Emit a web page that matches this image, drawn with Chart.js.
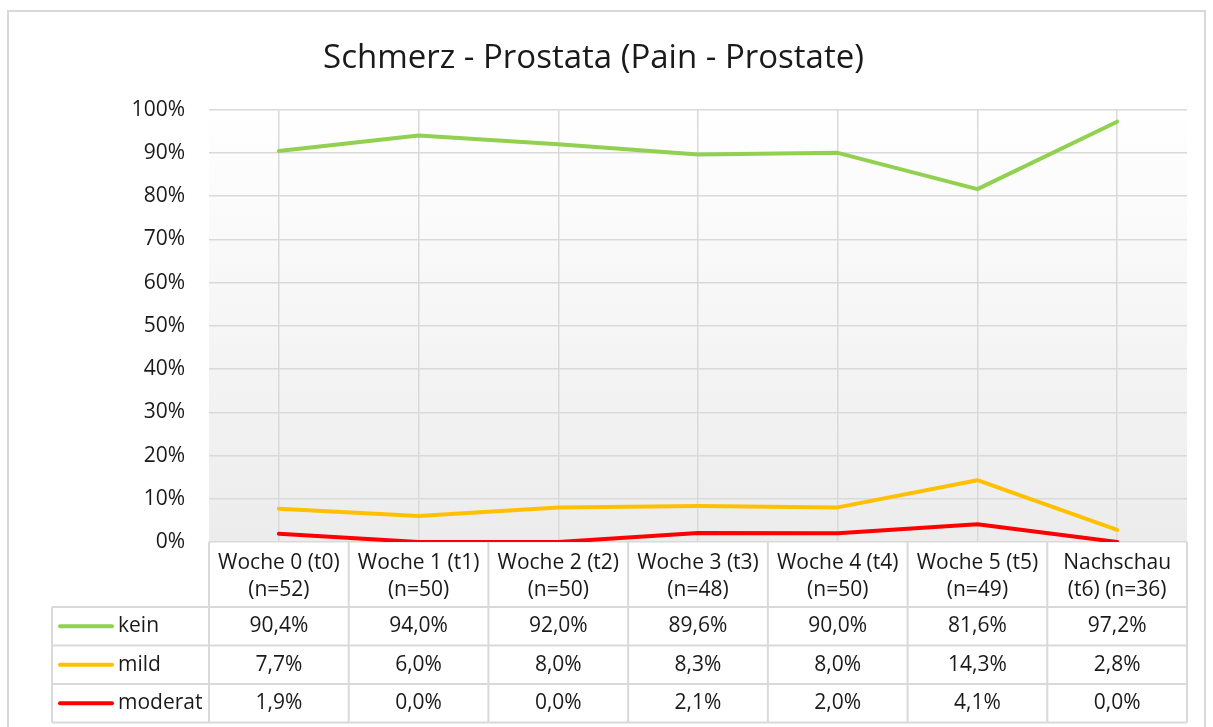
<!DOCTYPE html>
<html>
<head>
<meta charset="utf-8">
<script src="https://cdn.jsdelivr.net/npm/chart.js@4.4.1/dist/chart.umd.min.js"></script>
<style>
  body { margin: 0; background: #fff; }
  #wrap { width: 1213px; height: 727px; }
</style>
</head>
<body>
<div id="wrap"><canvas id="chart" width="1213" height="727"></canvas></div>
<script>
// data
const categories = [
    ['Woche 0 (t0)', '(n=52)'],
    ['Woche 1 (t1)', '(n=50)'],
    ['Woche 2 (t2)', '(n=50)'],
    ['Woche 3 (t3)', '(n=48)'],
    ['Woche 4 (t4)', '(n=50)'],
    ['Woche 5 (t5)', '(n=49)'],
    ['Nachschau', '(t6) (n=36)']
];
const seriesNames = ['kein', 'mild', 'moderat'];
const kein = [90.4, 94.0, 92.0, 89.6, 90.0, 81.6, 97.2];
const mild = [7.7, 6.0, 8.0, 8.3, 8.0, 14.3, 2.8];
const moderat = [1.9, 0.0, 0.0, 2.1, 2.0, 4.1, 0.0];
const colors = ['#92d050', '#ffc000', '#ff0000'];

const FONT = "'Open Sans', 'DejaVu Sans', sans-serif";
const TXT = 21;
const fmt = v => v.toFixed(1).replace('.', ',') + '%';

// table under the plot + gradient + outer frame
const tablePlugin = {
    id: 'dataTable',
    beforeDraw(chart) {
        const {ctx, chartArea: a} = chart;
        ctx.save();
        ctx.strokeStyle = '#d9d9d9';
        ctx.lineWidth = 2;
        ctx.strokeRect(8, 11, 1197, 800);
        const g = ctx.createLinearGradient(0, a.top, 0, a.bottom);
        g.addColorStop(0, '#ffffff');
        g.addColorStop(1, '#ececec');
        ctx.fillStyle = g;
        ctx.fillRect(a.left, a.top, a.right - a.left, a.bottom - a.top);
        ctx.restore();
    },
    afterDraw(chart) {
        const {ctx, chartArea: a} = chart;
        const x = chart.scales.x;
        const n = categories.length;
        const colW = (x.right - x.left) / n;
        const headBottom = 607;
        const rowH = 38.5;
        const rows = [kein, mild, moderat];
        const tableBottom = headBottom + rowH * rows.length;
        const legLeft = 52;

        ctx.save();
        ctx.strokeStyle = '#d9d9d9';
        ctx.lineWidth = 2;
        ctx.beginPath();
        for (let i = 0; i <= n; i++) {
            const xx = x.left + i * colW;
            ctx.moveTo(xx, a.bottom);
            ctx.lineTo(xx, tableBottom);
        }
        ctx.moveTo(legLeft, headBottom);
        ctx.lineTo(legLeft, tableBottom);
        for (let r = 0; r <= rows.length; r++) {
            const yy = headBottom + r * rowH;
            ctx.moveTo(legLeft, yy);
            ctx.lineTo(x.right, yy);
        }
        ctx.stroke();

        ctx.font = TXT + 'px ' + FONT;
        ctx.fillStyle = '#1a1a1a';
        ctx.textBaseline = 'middle';
        rows.forEach((vals, r) => {
            const cy = headBottom + r * rowH + rowH / 2;
            // legend key
            ctx.strokeStyle = colors[r];
            ctx.lineWidth = 4;
            ctx.lineCap = 'round';
            ctx.beginPath();
            ctx.moveTo(60, cy);
            ctx.lineTo(112, cy);
            ctx.stroke();
            ctx.textAlign = 'left';
            ctx.fillText(seriesNames[r], 118, cy);
            ctx.textAlign = 'center';
            vals.forEach((v, i) => {
                ctx.fillText(fmt(v), x.getPixelForValue(i), cy);
            });
        });
        ctx.restore();
    }
};

const ctx = document.getElementById('chart').getContext('2d');
const lineChart = new Chart(ctx, {
    type: 'line',
    data: {
        labels: categories,
        datasets: [kein, mild, moderat].map((d, i) => ({
            label: seriesNames[i],
            data: d,
            borderColor: colors[i],
            backgroundColor: colors[i],
            borderWidth: 4,
            pointRadius: 0,
            tension: 0,
            borderCapStyle: 'round',
            borderJoinStyle: 'round'
        }))
    },
    options: {
        responsive: false,
        animation: false,
        layout: {padding: {left: 0, right: 26, top: 0, bottom: 0}},
        plugins: {
            legend: {display: false},
            tooltip: {enabled: false},
            title: {
                display: true,
                text: 'Schmerz - Prostata (Pain - Prostate)',
                color: '#1a1a1a',
                font: {family: FONT, size: 33, weight: 'normal', lineHeight: 1.2},
                padding: {top: 39, bottom: 31}
            }
        },
        scales: {
            x: {
                offset: true,
                afterFit(scale) { scale.height = 185; },
                grid: {color: '#d9d9d9', lineWidth: 1.5, drawTicks: false, offset: false},
                border: {display: false},
                ticks: {
                    color: '#1a1a1a',
                    padding: 7,
                    maxRotation: 0,
                    autoSkip: false,
                    font: {family: FONT, size: TXT, lineHeight: 1.3}
                }
            },
            y: {
                min: 0,
                max: 100,
                afterFit(scale) { scale.width = 209; },
                grid: {color: '#d9d9d9', lineWidth: 1.5, drawTicks: false},
                border: {display: false},
                ticks: {
                    stepSize: 10,
                    padding: 24,
                    color: '#1a1a1a',
                    font: {family: FONT, size: TXT},
                    callback: v => v + '%'
                }
            }
        }
    },
    plugins: [tablePlugin]
});
</script>
</body>
</html>
